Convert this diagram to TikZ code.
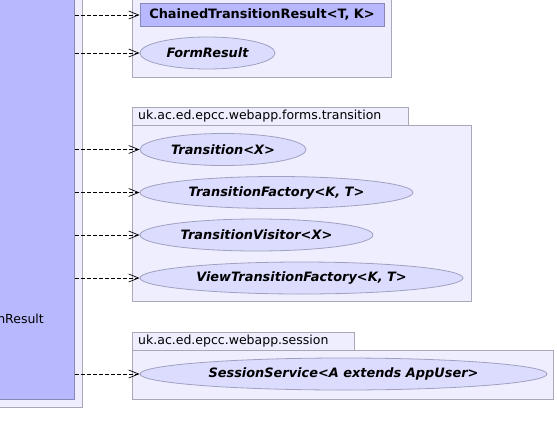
\documentclass[tikz,border=0pt]{standalone}
\usepackage{fontspec}
\setmainfont{DejaVu Sans}
\usetikzlibrary{arrows.meta,shapes.geometric}
\definecolor{pkgfill}{HTML}{EEEEFF}
\definecolor{pkgline}{HTML}{A8A8B8}
\definecolor{clsfill}{HTML}{B8B8FF}
\definecolor{clsline}{HTML}{8888B8}
\definecolor{ifill}{HTML}{DCDCFF}
\definecolor{iline}{HTML}{A0A0C0}
\tikzset{
  x=1pt,y=-1pt,
  lblfont/.style={font=\fontsize{12.5}{14}\selectfont},
  pkgbox/.style={draw=pkgline,fill=pkgfill,line width=0.8pt,rectangle,inner sep=0pt,anchor=north west},
  pkgtab/.style={draw=pkgline,fill=pkgfill,line width=0.8pt,rectangle,inner sep=0pt,anchor=north west},
  clsbox/.style={draw=clsline,fill=clsfill,line width=0.8pt,rectangle,inner sep=0pt,font=\bfseries\fontsize{12.9}{15}\selectfont},
  iface/.style={draw=iline,fill=ifill,line width=0.8pt,ellipse,inner sep=0pt,minimum height=32pt,font=\bfseries\itshape\fontsize{12.9}{15}\selectfont},
  dep/.style={dash pattern=on 4pt off 2pt,line width=0.7pt,-{Straight Barb[length=10pt,width=8pt,line width=0.7pt]}}
}
\begin{document}
\begin{tikzpicture}
\useasboundingbox (0,0) rectangle (557,445);
% left package and class
\node[pkgbox,minimum width=92pt,minimum height=417pt] (lpkg) at (-10,-10) {};
\node[draw=clsline,fill=clsfill,line width=0.8pt,rectangle,inner sep=0pt,anchor=north west,minimum width=84pt,minimum height=409pt] (src) at (-10,-10) {};
\node[anchor=east,inner sep=0pt,lblfont] (srclbl) at (44,319) {mnResult};
% package 1 (top)
\node[pkgbox,minimum width=259pt,minimum height=87pt] (p1) at (132,-10) {};
\node[clsbox,minimum width=244pt,minimum height=23pt] (ctr) at (262,15) {ChainedTransitionResult<T, K>};
\node[iface,minimum width=135pt] (fr) at (207.5,53) {FormResult};
% package 2
\node[pkgtab,minimum width=276pt,minimum height=18pt] (p2tab) at (132,107) {};
\node[anchor=west,inner sep=0pt,lblfont] (p2lbl) at (138,116.5) {uk.ac.ed.epcc.webapp.forms.transition};
\node[pkgbox,minimum width=339pt,minimum height=176pt] (p2) at (132,125) {};
\node[iface,minimum width=166pt] (tr) at (223,149.5) {Transition<X>};
\node[iface,minimum width=273pt] (tf) at (276.5,192.5) {TransitionFactory<K, T>};
\node[iface,minimum width=233pt] (tv) at (256.5,235) {TransitionVisitor<X>};
\node[iface,minimum width=323pt] (vtf) at (301.5,278) {ViewTransitionFactory<K, T>};
% package 3
\node[pkgtab,minimum width=222pt,minimum height=18pt] (p3tab) at (132,332) {};
\node[anchor=west,inner sep=0pt,lblfont] (p3lbl) at (138,341.5) {uk.ac.ed.epcc.webapp.session};
\node[pkgbox,minimum width=421pt,minimum height=49pt] (p3) at (132,350) {};
\node[iface,minimum width=407pt] (ss) at (343.5,374) {SessionService<A extends AppUser>};
% dependencies
\foreach \t in {ctr,fr,tr,tf,tv,vtf,ss}{
  \draw[dep] (src.east |- \t.west) -- (\t.west);
}
\end{tikzpicture}
\end{document}
